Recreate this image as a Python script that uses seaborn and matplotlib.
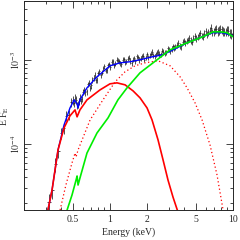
import numpy as np
import matplotlib
matplotlib.use('Agg')
import matplotlib.pyplot as plt
import seaborn as sns

# observed spectrum (keV, E F_E)
energy = [0.32, 0.34, 0.36, 0.38, 0.40, 0.42, 0.44, 0.46, 0.48, 0.50,
          0.52, 0.54, 0.56, 0.58, 0.60, 0.63, 0.66, 0.69, 0.72, 0.75,
          0.78, 0.82, 0.86, 0.90, 0.94, 0.98, 1.03, 1.08, 1.13, 1.18,
          1.24, 1.30, 1.36, 1.43, 1.50, 1.57, 1.65, 1.73, 1.81, 1.90,
          2.0, 2.1, 2.2, 2.3, 2.4, 2.5, 2.65, 2.8, 2.95, 3.1,
          3.25, 3.4, 3.6, 3.8, 4.0, 4.2, 4.4, 4.65, 4.9, 5.15,
          5.4, 5.7, 6.0, 6.3, 6.6, 6.95, 7.3, 7.7, 8.1, 8.5,
          8.9, 9.4, 9.9]
flux = [2.04e-5, 2.83e-5, 5.75e-5, 8.26e-5, 1.35e-4, 1.54e-4, 2.17e-4, 2.23e-4, 3.13e-4, 3.30e-4,
        3.53e-4, 2.86e-4, 3.21e-4, 3.25e-4, 4.16e-4, 4.09e-4, 5.10e-4, 4.67e-4, 5.73e-4, 6.56e-4,
        5.82e-4, 7.29e-4, 7.05e-4, 8.36e-4, 7.52e-4, 8.87e-4, 9.42e-4, 8.57e-4, 1.005e-3, 9.55e-4,
        8.83e-4, 1.021e-3, 9.59e-4, 1.059e-3, 9.12e-4, 1.038e-3, 1.101e-3, 9.95e-4, 1.109e-3, 1.005e-3,
        1.172e-3, 1.114e-3, 1.239e-3, 1.096e-3, 1.216e-3, 1.175e-3, 1.282e-3, 1.208e-3, 1.377e-3, 1.271e-3,
        1.442e-3, 1.419e-3, 1.585e-3, 1.439e-3, 1.675e-3, 1.660e-3, 1.828e-3, 1.641e-3, 1.897e-3, 1.866e-3,
        2.099e-3, 1.884e-3, 2.173e-3, 2.133e-3, 2.404e-3, 2.143e-3, 2.350e-3, 2.244e-3, 2.296e-3, 2.158e-3,
        2.270e-3, 2.075e-3, 2.080e-3]
rel_err = [0.25, 0.22, 0.2, 0.18, 0.16, 0.15, 0.14, 0.13, 0.12, 0.11,
           0.11, 0.1, 0.1, 0.09, 0.09, 0.09, 0.08, 0.08, 0.08, 0.08,
           0.08, 0.07, 0.07, 0.07, 0.07, 0.07, 0.07, 0.07, 0.07, 0.07,
           0.07, 0.07, 0.07, 0.07, 0.07, 0.07, 0.07, 0.07, 0.07, 0.07,
           0.07, 0.07, 0.07, 0.07, 0.07, 0.07, 0.07, 0.07, 0.07, 0.07,
           0.08, 0.08, 0.08, 0.08, 0.08, 0.08, 0.08, 0.09, 0.09, 0.09,
           0.09, 0.09, 0.1, 0.1, 0.1, 0.1, 0.11, 0.11, 0.11, 0.12,
           0.12, 0.13, 0.14]

# second set of bins (interleaved with the first one)
energy_b = [0.51, 0.53, 0.55, 0.57, 0.59, 0.615, 0.645, 0.675, 0.705, 0.735,
            0.765, 0.80, 0.84, 0.88, 0.92, 0.96, 1.005, 1.055, 1.105, 1.155,
            1.21, 1.27, 1.33, 1.395, 1.465, 1.535, 1.61, 1.69, 1.77, 1.855,
            1.95, 2.05, 2.15, 2.25, 2.35, 2.45, 2.575, 2.72, 2.875, 3.02,
            3.17, 3.32, 3.5, 3.7, 3.9, 4.1, 4.3, 4.52, 4.77, 5.02,
            5.27, 5.55, 5.85, 6.15, 6.45, 6.77, 7.12, 7.5, 7.9, 8.3,
            8.7, 9.15, 9.65]
flux_b = [3.05e-4, 3.35e-4, 2.95e-4, 3.55e-4, 3.45e-4, 4.35e-4, 4.2e-4, 5.3e-4, 4.95e-4, 6.1e-4,
          5.7e-4, 6.9e-4, 6.6e-4, 7.9e-4, 7.4e-4, 8.6e-4, 8.2e-4, 9.6e-4, 9.0e-4, 9.9e-4,
          9.1e-4, 1.0e-3, 9.3e-4, 1.03e-3, 9.7e-4, 1.0e-3, 9.6e-4, 1.07e-3, 1.04e-3, 1.12e-3,
          1.06e-3, 1.08e-3, 1.18e-3, 1.13e-3, 1.17e-3, 1.24e-3, 1.16e-3, 1.25e-3, 1.23e-3, 1.33e-3,
          1.35e-3, 1.37e-3, 1.50e-3, 1.48e-3, 1.62e-3, 1.58e-3, 1.72e-3, 1.70e-3, 1.82e-3, 1.79e-3,
          1.96e-3, 1.92e-3, 2.05e-3, 2.02e-3, 2.22e-3, 2.12e-3, 2.30e-3, 2.18e-3, 2.34e-3, 2.20e-3,
          2.15e-3, 2.22e-3, 2.05e-3]
rel_err_b = [0.11, 0.1, 0.1, 0.09, 0.09, 0.09, 0.08, 0.08, 0.08, 0.08,
             0.08, 0.07, 0.07, 0.07, 0.07, 0.07, 0.07, 0.07, 0.07, 0.07,
             0.07, 0.07, 0.07, 0.07, 0.07, 0.07, 0.07, 0.07, 0.07, 0.07,
             0.07, 0.07, 0.07, 0.07, 0.07, 0.07, 0.07, 0.07, 0.07, 0.07,
             0.08, 0.08, 0.08, 0.08, 0.08, 0.08, 0.08, 0.09, 0.09, 0.09,
             0.09, 0.09, 0.1, 0.1, 0.1, 0.1, 0.11, 0.11, 0.11, 0.12,
             0.12, 0.13, 0.14]

# total model (blue)
tot_e = [0.313, 0.338, 0.378, 0.423, 0.473, 0.511, 0.540, 0.550, 0.570, 0.650,
         0.784, 1.0, 1.206, 1.455, 1.754, 2.238, 2.70, 3.38, 4.23, 5.40,
         6.88, 8.14, 10.0]
tot_f = [1.64e-5, 2.83e-5, 8.49e-5, 1.68e-4, 2.68e-4, 3.34e-4, 2.99e-4, 2.68e-4, 3.34e-4, 4.64e-4,
         6.28e-4, 8.48e-4, 9.2e-4, 9.47e-4, 1.0e-3, 1.09e-3, 1.15e-3, 1.35e-3, 1.59e-3, 1.83e-3,
         2.10e-3, 2.10e-3, 1.93e-3]

# cool component (red solid)
bb1_e = [0.313, 0.338, 0.378, 0.423, 0.473, 0.520, 0.540, 0.570, 0.650, 0.830,
         1.0, 1.14, 1.325, 1.54, 1.754, 2.0, 2.196, 2.456, 2.70, 2.96,
         3.25, 3.57]
bb1_f = [1.64e-5, 2.83e-5, 8.49e-5, 1.55e-4, 2.16e-4, 2.54e-4, 2.10e-4, 2.54e-4, 3.34e-4, 4.39e-4,
         5.18e-4, 5.32e-4, 5.04e-4, 4.27e-4, 3.53e-4, 2.68e-4, 1.93e-4, 1.12e-4, 6.45e-5, 3.73e-5,
         2.34e-5, 1.55e-5]

# hot component (red dotted)
bb2_e = [0.393, 0.438, 0.491, 0.520, 0.530, 0.550, 0.689, 0.877, 1.10, 1.325,
         1.597, 1.926, 2.456, 3.08, 3.71, 4.23, 4.91, 5.60, 6.50, 7.41, 8.30]
bb2_f = [1.64e-5, 3.25e-5, 5.94e-5, 7.8e-5, 7.0e-5, 8.49e-5, 1.93e-4, 3.34e-4, 5.47e-4, 7.2e-4,
         8.48e-4, 9.2e-4, 9.73e-4, 8.48e-4, 6.28e-4, 4.64e-4, 3.08e-4, 1.93e-4, 9.73e-5, 4.28e-5, 1.64e-5]

# power law with cutoff (green)
pl_e = [0.448, 0.491, 0.530, 0.540, 0.550, 0.570, 0.650, 0.784, 0.964, 1.16,
        1.375, 1.754, 2.41, 3.08, 4.23, 5.70, 6.88, 7.84, 8.94, 10.0]
pl_f = [1.64e-5, 2.47e-5, 3.73e-5, 4.16e-5, 3.25e-5, 3.94e-5, 7.8e-5, 1.35e-4, 2.04e-4, 3.34e-4,
        4.64e-4, 7.0e-4, 1.0e-3, 1.315e-3, 1.59e-3, 1.88e-3, 2.15e-3, 2.15e-3, 2.10e-3, 1.88e-3]

sns.set_style('ticks')
plt.rcParams['font.family'] = ['Liberation Serif', 'DejaVu Serif']
plt.rcParams['mathtext.fontset'] = 'stix'


def main():
    fig = plt.figure(figsize=(2.4, 2.4), dpi=100)
    ax = fig.add_axes([0.1, 0.123, 0.871, 0.873])

    e = np.concatenate([energy, energy_b])
    f = np.concatenate([flux, flux_b])
    r = np.concatenate([rel_err, rel_err_b])
    order = np.argsort(e)
    e, f, r = e[order], f[order], r[order]
    edges = np.sqrt(e[1:] * e[:-1])
    lo = e - np.concatenate([[e[0] * 0.97], edges])
    hi = np.concatenate([edges, [e[-1] * 1.02]]) - e
    ax.errorbar(e, f, yerr=f * r, xerr=[lo, hi], fmt='none',
                ecolor='#222222', elinewidth=0.55, zorder=3)

    sns.lineplot(x=tot_e, y=tot_f, ax=ax, color='#0000ff', lw=1.0, sort=False,
                 estimator=None, zorder=4)
    sns.lineplot(x=bb1_e, y=bb1_f, ax=ax, color='#ff0000', lw=1.2, sort=False,
                 estimator=None, zorder=5)
    sns.lineplot(x=bb2_e, y=bb2_f, ax=ax, color='#ff0000', lw=0.9, sort=False,
                 estimator=None, zorder=5, linestyle=(0, (1, 2)))
    sns.lineplot(x=pl_e, y=pl_f, ax=ax, color='#00ee00', lw=1.2, sort=False,
                 estimator=None, zorder=6)

    ax.set_xscale('log')
    ax.set_yscale('log')
    ax.set_xlim(0.2, 10)
    ax.set_ylim(1.62e-5, 5.0e-3)
    ax.set_xticks([0.5, 1, 2, 5, 10])
    ax.set_xticklabels(['0.5', '1', '2', '5', '10'])
    ax.set_yticks([1e-4, 1e-3])
    ax.set_yticklabels([r'$10^{-4}$', r'$10^{-3}$'])
    ax.tick_params(which='both', direction='in', top=True, right=True,
                   labelsize=7, width=0.6, pad=3)
    ax.tick_params(axis='y', pad=1.5)
    ax.tick_params(which='major', length=5)
    ax.tick_params(which='minor', length=2.5)
    plt.setp(ax.get_yticklabels(), rotation=90, va='center')
    for sp in ax.spines.values():
        sp.set_linewidth(0.7)

    ax.set_xlabel('Energy (keV)', fontsize=7, labelpad=3)
    ax.set_ylabel(r'E F$_{\rm E}$', fontsize=7)
    ax.yaxis.set_label_coords(-0.062, 0.45)

    fig.savefig('out.png', dpi=100)


if __name__ == '__main__':
    main()
